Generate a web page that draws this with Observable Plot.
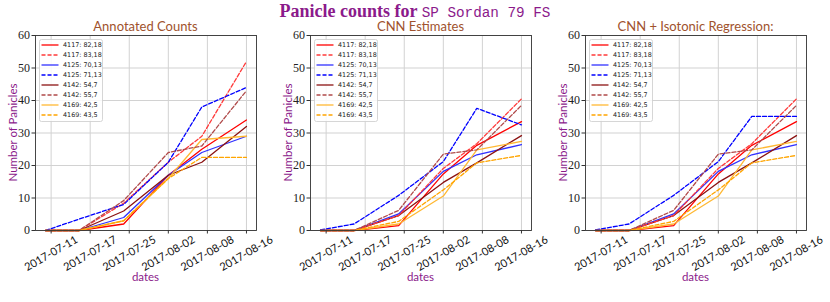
<!DOCTYPE html>
<html>
<head>
<meta charset="utf-8">
<script src="https://cdn.jsdelivr.net/npm/d3@7"></script>
<script src="https://cdn.jsdelivr.net/npm/@observablehq/plot@0.6"></script>
<style>
  html, body { margin: 0; padding: 0; background: white; }
  #root { position: relative; width: 830px; height: 302px; background: white; overflow: hidden; }
  .abs { position: absolute; }
  .title { top: 1px; left: 0; width: 830px; text-align: center; color: #8b1a8b;
           font: bold 18px "Liberation Serif", serif; line-height: 20px; white-space: nowrap; }
  .title .mono { font: 14.3px "Liberation Mono", monospace; font-weight: normal; }
  .sub { top: 18px; width: 275px; text-align: center; color: #a0522d;
         font: 13px Lato, sans-serif; line-height: 16px; white-space: nowrap; }
  .ylab { color: #8b1a8b; font: 11.5px Lato, sans-serif; white-space: nowrap;
          transform-origin: center center; }
  .xlab { top: 270px; width: 275px; text-align: center; color: #8b1a8b; font: 11.5px Lato, sans-serif; }
</style>
</head>
<body>
<div id="root"></div>
<script>
// ---------------- data ----------------
const dates = ["2017-07-11", "2017-07-17", "2017-07-25", "2017-08-02", "2017-08-08", "2017-08-16"];
const tickLabels = ["2017-07-11", "2017-07-17", "2017-07-25", "2017-08-02", "2017-08-08", "2017-08-16"];
const seriesLabels = ["4117: 82,18", "4117: 83,18", "4125: 70,13", "4125: 71,13",
                      "4142: 54,7", "4142: 55,7", "4169: 42,5", "4169: 43,5"];
const panelTitles = ["Annotated Counts", "CNN Estimates", "CNN + Isotonic Regression:"];
const yTicks = [0, 10, 20, 30, 40, 50, 60];

// one row per series (same order as seriesLabels), one value per date
const annotatedCounts = [
  [0, 0, 2, 17, 25, 34],
  [0, 0, 8.4, 21, 29, 52],
  [0, 0, 4, 17, 24, 29],
  [0, 3.5, 8, 21, 38, 44],
  [0, 0, 6, 17, 21, 32],
  [0, 0, 9.2, 24, 26, 43],
  [0, 0, 3, 16, 28, 29],
  [0, 0, 3, 16, 22.5, 22.5]
];
const cnnEstimates = [
  [0, 0, 1.5, 17.4, 26.2, 33.5],
  [0, 0, 4.6, 19.1, 26.7, 40.5],
  [0, 0, 5.1, 18.2, 23.3, 26.4],
  [0.2, 2, 10.8, 21.2, 37.6, 32.5],
  [0, 0, 4.6, 14.8, 20.8, 29.2],
  [0, 0, 6.2, 23.5, 24.8, 38.5],
  [0, 0, 2, 10.6, 24.8, 27.4],
  [0, 0, 2.8, 12.5, 20.8, 23.1]
];
const cnnIsotonic = [
  [0, 0, 1.5, 17.4, 26.2, 33.5],
  [0, 0, 4.6, 19.1, 26.7, 40.5],
  [0, 0, 5.1, 18.2, 23.3, 26.4],
  [0.2, 2, 10.8, 21.2, 35.1, 35.1],
  [0, 0, 4.6, 14.8, 20.8, 29.2],
  [0, 0, 6.2, 23.5, 24.8, 38.5],
  [0, 0, 2, 10.6, 24.8, 27.4],
  [0, 0, 2.8, 12.5, 20.8, 23.1]
];

// ---------------- styles ----------------
const seriesColors = ["#ff0000", "#ff3a3a", "#3030ff", "#0000ff", "#8b1212", "#b04a4a", "#ffb833", "#ffa500"];
const seriesDashed = [false, true, false, true, false, true, false, true];
const DASH = "4,2";

const parse = d3.utcParse("%Y-%m-%d");
const dateObjs = dates.map(parse);
const t0 = dateObjs[0], t1 = dateObjs[dateObjs.length - 1];
const pad = (t1 - t0) * 0.05;
// weekly tick locations ending on the last date (as the source's auto locator did)
const tickDates = d3.range(tickLabels.length - 1, -1, -1).map(k => d3.utcDay.offset(t1, -7 * k));

const root = document.getElementById("root");

const titleDiv = document.createElement("div");
titleDiv.className = "abs title";
titleDiv.innerHTML = 'Panicle counts for <span class="mono">SP Sordan 79 FS</span>';
root.appendChild(titleDiv);

const PW = 275;

function makePanel(values, title, idx) {
  const rows = [];
  values.forEach((vals, s) => {
    vals.forEach((v, i) => rows.push({
      date: dateObjs[i], value: v, series: seriesLabels[s],
      color: seriesColors[s], dashed: seriesDashed[s]
    }));
  });
  const chart = Plot.plot({
    width: PW, height: 302,
    marginLeft: 35, marginRight: 19, marginTop: 35, marginBottom: 72,
    style: { background: "transparent", overflow: "visible" },
    x: { type: "utc", domain: [new Date(+t0 - pad), new Date(+t1 + pad)] },
    y: { domain: [0, 60] },
    color: { type: "identity" },
    marks: [
      Plot.gridX(tickDates, { stroke: "#d2d2d2", strokeOpacity: 1, strokeWidth: 1 }),
      Plot.gridY(yTicks, { stroke: "#d2d2d2", strokeOpacity: 1, strokeWidth: 1.2 }),
      Plot.line(rows.filter(d => !d.dashed), { x: "date", y: "value", z: "series", stroke: "color", strokeWidth: 1.3 }),
      Plot.line(rows.filter(d => d.dashed), { x: "date", y: "value", z: "series", stroke: "color", strokeWidth: 1.3, strokeDasharray: DASH }),
      Plot.frame({ stroke: "#333", strokeWidth: 0.9 }),
      Plot.axisY(yTicks, { tickSize: 3.5, tickPadding: 2, fontSize: 12, fontFamily: "Liberation Serif", label: null, stroke: "#333", fill: "#222" }),
      Plot.axisX(tickDates, { tickSize: 3.5, tickFormat: () => "", label: null, stroke: "#333" }),
      Plot.text(tickDates, { x: d => d, text: (d, i) => tickLabels[i], frameAnchor: "bottom", dy: 23,
        rotate: -30, textAnchor: "middle", lineAnchor: "middle", fontSize: 11, fontFamily: "Lato", fill: "#111" })
    ]
  });
  const wrap = document.createElement("div");
  wrap.className = "abs";
  wrap.style.left = (idx * PW) + "px";
  wrap.style.top = "0px";
  wrap.style.width = PW + "px";
  wrap.style.height = "302px";
  chart.style.position = "absolute";
  chart.style.left = "0px";
  chart.style.top = "0px";
  wrap.appendChild(chart);

  const sub = document.createElement("div");
  sub.className = "abs sub";
  sub.style.left = (35 + 221 / 2 - PW / 2) + "px";
  sub.textContent = title;
  wrap.appendChild(sub);

  const yl = document.createElement("div");
  yl.className = "abs ylab";
  yl.textContent = "Number of Panicles";
  yl.style.width = "120px";
  yl.style.textAlign = "center";
  yl.style.left = (12 - 60) + "px";
  yl.style.top = (132.5 - 7) + "px";
  yl.style.transform = "rotate(-90deg)";
  wrap.appendChild(yl);

  const xl = document.createElement("div");
  xl.className = "abs xlab";
  xl.style.left = (35 + 221 / 2 - PW / 2) + "px";
  xl.textContent = "dates";
  wrap.appendChild(xl);

  // legend
  const lg = d3.create("svg").attr("width", 66).attr("height", 84)
    .style("position", "absolute").style("left", "38.5px").style("top", "38.5px").style("overflow", "visible");
  lg.append("rect").attr("x", 0.5).attr("y", 0.5).attr("width", 63).attr("height", 82)
    .attr("rx", 2).attr("fill", "white").attr("fill-opacity", 0.85).attr("stroke", "#cccccc").attr("stroke-width", 0.8);
  seriesLabels.forEach((lab, s) => {
    const y = 6 + 10 * s;
    lg.append("line").attr("x1", 2.5).attr("x2", 19.5).attr("y1", y).attr("y2", y)
      .attr("stroke", seriesColors[s]).attr("stroke-width", 1.3)
      .attr("stroke-dasharray", seriesDashed[s] ? DASH : null);
    lg.append("text").attr("x", 24).attr("y", y).attr("dy", "0.35em")
      .attr("font-family", "DejaVu Sans").style("font-size", "6.4px").attr("fill", "#222").text(lab);
  });
  wrap.appendChild(lg.node());
  root.appendChild(wrap);
}

makePanel(annotatedCounts, panelTitles[0], 0);
makePanel(cnnEstimates, panelTitles[1], 1);
makePanel(cnnIsotonic, panelTitles[2], 2);
// keep the title on top
root.appendChild(titleDiv);
</script>
</body>
</html>
